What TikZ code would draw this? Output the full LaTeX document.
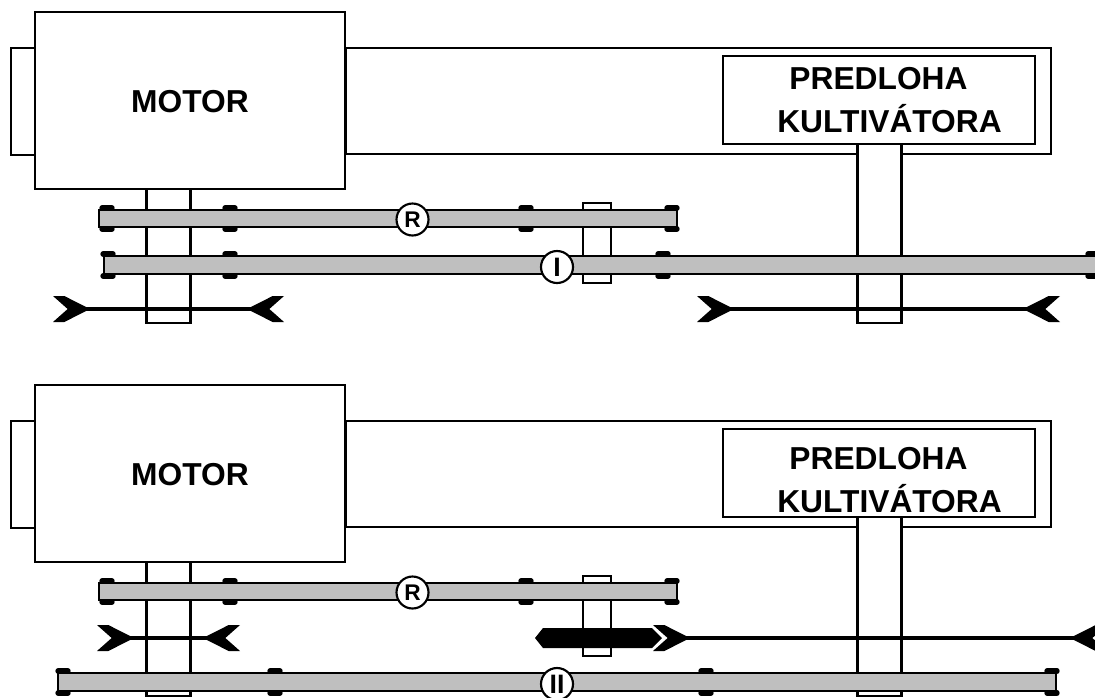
\documentclass[tikz,border=0pt]{standalone}
\usepackage{fontspec}
\setmainfont{Liberation Sans}
\usetikzlibrary{arrows.meta}
\pgfdeclarearrow{
  name=Barb,
  setup code={\pgfarrowssettipend{0pt}\pgfarrowssetlineend{-15pt}\pgfarrowssetbackend{-27.75pt}},
  drawing code={
    \pgfpathmoveto{\pgfpoint{0pt}{9.75pt}}
    \pgfpathlineto{\pgfpoint{-8.5pt}{9.75pt}}
    \pgfpathlineto{\pgfpoint{-27.75pt}{0pt}}
    \pgfpathlineto{\pgfpoint{-8.5pt}{-9.75pt}}
    \pgfpathlineto{\pgfpoint{0pt}{-9.75pt}}
    \pgfpathlineto{\pgfpoint{-11pt}{0pt}}
    \pgfpathclose
    \pgfusepathqfill}
}
\begin{document}
\begin{tikzpicture}[x=.75pt,y=-.75pt]
\tikzstyle{block}=[draw, fill=white, line width=2.1pt, anchor=north west, inner sep=0pt, outer sep=0pt]
\tikzstyle{graybar}=[block, fill=black!25!white]
\tikzstyle{barlip}=[line width=4pt, line cap=round]
\tikzstyle{rod}=[line width=2.4pt, {Barb}-{Barb}]
\tikzstyle{gearmark}=[circle, draw, fill=white, line width=1.6pt, inner sep=0pt, minimum size=24pt, font=\bfseries\fontsize{17}{17}\selectfont]
\tikzstyle{blocktext}=[font=\bfseries\fontsize{23.8}{24}\selectfont, inner sep=0pt]
\useasboundingbox (0,0) rectangle (1095,697);
% both drawings share the same frame
\foreach \p/\dy/\dt in {a/0/0,b/373/7}{
\node[block, minimum width=18pt, minimum height=80.25pt] (stub\p) at (11,48+\dy) {};
\node[block, minimum width=528.75pt, minimum height=79.5pt] (housing\p) at (346,48+\dy) {};
\node[block, minimum width=33pt, minimum height=100.5pt] (shaftl\p) at (146.5,189+\dy) {};
\node[block, minimum width=33pt, minimum height=134.25pt] (shaftr\p) at (857.5,144+\dy) {};
\node[block, minimum width=232.5pt, minimum height=132.75pt] (motor\p) at (35,12+\dy) {};
\node[block, minimum width=234pt, minimum height=66pt] (predloha\p) at (723,56+\dy) {};
\node[block, minimum width=21pt, minimum height=60pt] (sleeve\p) at (583,203+\dy) {};
\node[blocktext] (motortext\p) at (190,102+\dy) {MOTOR};
\node[blocktext] (predlohatext\p) at (878.5,78.5+\dy+\dt) {PREDLOHA};
\node[blocktext] (kultivatortext\p) at (889.5,119+\dy+\dt) {KULTIVÁTORA};
\foreach \x in {107,230,526,672}{
\draw[barlip] (\x-5,208+\dy) -- (\x+5,208+\dy) (\x-5,229+\dy) -- (\x+5,229+\dy);}
\node[graybar, minimum width=433.5pt, minimum height=12.75pt] (barr\p) at (99,210+\dy) {};
\node[gearmark] (markr\p) at (412.5,219.5+\dy) {R};
}
% upper drawing
\foreach \x in {108,230,663,1093}{
\draw[barlip] (\x-5,254) -- (\x+5,254) (\x-5,276) -- (\x+5,276);}
\node[graybar, minimum width=760pt, minimum height=13.5pt] (bari) at (104,256) {};
\node[gearmark, font=\bfseries\fontsize{20}{20}\selectfont] (marki) at (557,267) {I};
\coordinate (l1) at (53,309);
\coordinate (l2) at (284,309);
\coordinate (r1) at (697,309);
\coordinate (r2) at (1060,309);
\foreach \i/\j in {l1/l2,r1/r2}{\draw[rod] (\i) -- (\j);}
% lower drawing
\foreach \x in {63,275,706,1052}{
\draw[barlip] (\x-5,671) -- (\x+5,671) (\x-5,693) -- (\x+5,693);}
\node[graybar, minimum width=748.5pt, minimum height=13.5pt] (barii) at (58,673) {};
\node[gearmark, font=\bfseries\fontsize{20}{20}\selectfont] (markii) at (557,684) {II};
\coordinate (m1) at (97,638);
\coordinate (m2) at (240,638);
\coordinate (n1) at (653,638);
\coordinate (n2) at (1107,638);
\fill (535,638) -- (543,628) -- (652,628) -- (662,638) -- (652,648) -- (543,648) -- cycle;
\foreach \i/\j in {m1/m2,n1/n2}{\draw[rod] (\i) -- (\j);}
\end{tikzpicture}
\end{document}
